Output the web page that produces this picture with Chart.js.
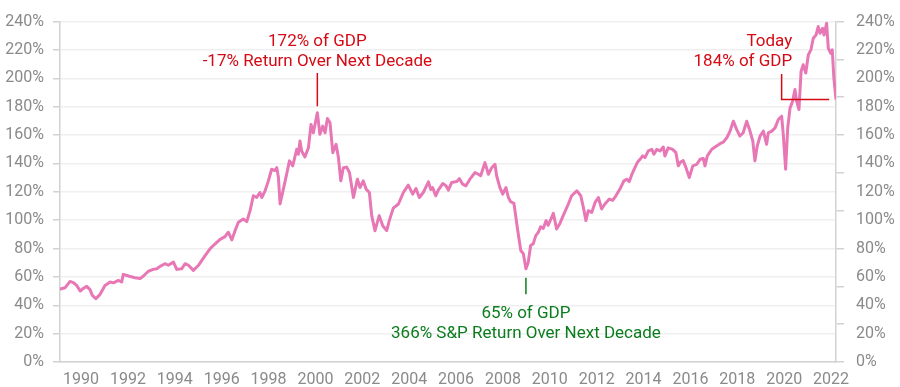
<!DOCTYPE html>
<html>
<head>
<meta charset="utf-8">
<script src="https://cdn.jsdelivr.net/npm/chart.js@4.4.1/dist/chart.umd.min.js"></script>
<style>
  html, body { margin: 0; padding: 0; background: #ffffff; }
  #wrap { width: 900px; height: 387px; position: relative; }
</style>
</head>
<body>
<div id="wrap"><canvas id="chart-gdp"></canvas></div>
<script>
'use strict';

/* ── Data ─────────────────────────────────────────────────────────────────────
   Total market cap as % of GDP (decimal years).      */
const years = [
  1989.10, 1989.15, 1989.32, 1989.53, 1989.67, 1989.81, 1989.96,
  1990.10, 1990.24, 1990.38, 1990.48, 1990.63, 1990.81,
  1991.02, 1991.24, 1991.38, 1991.59, 1991.73, 1991.80,
  1992.02, 1992.30, 1992.52, 1992.66, 1992.87,
  1993.08, 1993.23, 1993.37, 1993.58, 1993.72, 1993.94,
  1994.08, 1994.29, 1994.44, 1994.58, 1994.79,
  1995.00, 1995.29, 1995.50, 1995.64, 1995.79, 1995.93,
  1996.14, 1996.28, 1996.43, 1996.57, 1996.71, 1996.92,
  1997.07, 1997.21, 1997.35, 1997.49, 1997.63, 1997.71, 1997.85, 1997.99,
  1998.13, 1998.27, 1998.35, 1998.42, 1998.49, 1998.63, 1998.77, 1998.89,
  1999.03, 1999.20, 1999.27, 1999.34, 1999.41, 1999.55, 1999.70, 1999.81, 1999.91,
  2000.08, 2000.19, 2000.31, 2000.41, 2000.51, 2000.62, 2000.74, 2000.88, 2000.98,
  2001.08, 2001.19, 2001.33, 2001.45, 2001.62, 2001.79, 2001.90,
  2002.04, 2002.16, 2002.30, 2002.40, 2002.54, 2002.72, 2002.87,
  2003.04, 2003.15, 2003.32, 2003.54, 2003.75, 2003.96,
  2004.15, 2004.29, 2004.43, 2004.60, 2004.82, 2004.92,
  2005.00, 2005.13, 2005.24, 2005.43, 2005.57, 2005.67, 2005.81,
  2006.03, 2006.14, 2006.28, 2006.42, 2006.59, 2006.81, 2006.95,
  2007.05, 2007.23, 2007.38, 2007.52, 2007.66, 2007.73, 2007.87, 2007.99,
  2008.13, 2008.23, 2008.33, 2008.47, 2008.61, 2008.76, 2008.87, 2008.98,
  2009.08, 2009.18, 2009.29, 2009.40, 2009.51, 2009.61, 2009.72, 2009.84, 2009.93,
  2010.15, 2010.29, 2010.43, 2010.57, 2010.79, 2010.93,
  2011.15, 2011.32, 2011.43, 2011.54, 2011.64, 2011.79, 2011.93,
  2012.07, 2012.21, 2012.35, 2012.54, 2012.68, 2012.82, 2012.99,
  2013.16, 2013.28, 2013.39, 2013.49, 2013.63, 2013.73, 2013.85, 2013.96,
  2014.06, 2014.20, 2014.35, 2014.44, 2014.56, 2014.70, 2014.84, 2014.91,
  2015.05, 2015.24, 2015.38, 2015.48, 2015.58, 2015.69, 2015.81, 2015.95,
  2016.10, 2016.27, 2016.41, 2016.55, 2016.62, 2016.72, 2016.91,
  2017.05, 2017.26, 2017.40, 2017.55, 2017.69, 2017.83, 2017.97,
  2018.11, 2018.25, 2018.40, 2018.54, 2018.66, 2018.75, 2018.85, 2018.97,
  2019.11, 2019.25, 2019.32, 2019.47, 2019.61, 2019.75, 2019.89, 2019.96,
  2020.06, 2020.15, 2020.25, 2020.36, 2020.46, 2020.53, 2020.63, 2020.72, 2020.81, 2020.92,
  2021.03, 2021.14, 2021.24, 2021.36, 2021.45, 2021.53, 2021.64, 2021.70, 2021.81, 2021.88, 2021.98,
  2022.05, 2022.12, 2022.21,
];

const pctOfGdp = [
  51, 51.7, 52.4, 56.8, 56, 54, 50,
  52, 53.3, 51, 47, 44.7, 47.7,
  54, 56.4, 55.8, 57.5, 56.4, 61.8,
  60.6, 59.4, 58.8, 60.6, 64,
  65.3, 65.7, 67.4, 69.3, 68.2, 70.4,
  65.3, 65.7, 69.3, 68.2, 64.6,
  68, 75, 79.8, 82.1, 84.4, 86.5,
  88.4, 91.5, 86.1, 92.6, 98.5, 100.8,
  99, 106.7, 117.2, 116, 119.5, 116, 120.7, 127.7,
  135.9, 135, 137, 130, 111.4, 121.9, 132.4, 141.8,
  138.3, 150, 146.5, 155.8, 148.8, 144.6, 151.1, 167.5, 161.6,
  175.7, 160.5, 166.3, 161.6, 171.7, 168.7, 147.6, 153.5, 144.1,
  127.7, 137, 137.4, 133.6, 116, 128.9, 123,
  127.7, 121.9, 119.5, 103.2, 92.6, 103.2, 96.1,
  92.6, 99.7, 108.5, 111.4, 119.5, 124.7,
  118.4, 122.3, 116, 119.5, 127, 121.6,
  123, 117.2, 121.2, 125.8, 124.2, 121.2, 126.5,
  127.2, 129.3, 125.4, 124.2, 128.9, 133.6, 132.4,
  131.3, 140.6, 132.4, 137, 139.4, 131.3, 123, 118.4,
  123, 116, 113, 111.8, 95, 78.6, 76.3, 65.7,
  70.4, 82.1, 83.3, 89.1, 91.5, 95.4, 94.2, 99.7, 96.4,
  104.8, 93.8, 97.7, 103.2, 111.4, 117.2,
  120.7, 117.2, 109, 99.7, 106.7, 105.5, 112.5,
  116, 107.9, 111.4, 114.9, 114, 117.2, 121.9,
  127.7, 128.9, 127.2, 131.9, 137, 140.6, 142.9, 145.3,
  144.1, 148.8, 149.9, 146.5, 149.9, 148.8, 151.6, 145.3,
  151, 149.9, 147.6, 138.3, 141, 142, 137, 130,
  138.3, 139.4, 142.9, 143.5, 138.3, 145.3, 150,
  151.6, 153.9, 155, 158.1, 162.8, 169.8, 164,
  159.3, 161.6, 169.8, 162.8, 155.8, 141.8, 152.3, 159.3,
  162.8, 153.5, 161.6, 162.8, 165.1, 171, 173.3, 160.5,
  135.9, 165.1, 179.2, 183.9, 192.1, 183.9, 178, 204.9, 209.6, 203.7,
  216.6, 220.1, 228.3, 230.6, 236.5, 231.8, 235.3, 230.6, 238.8, 221.3, 217.8,
  220.1, 200.2, 185,
];

// Axis range and year ticks
const yearMin = 1989.1;
const yearMax = 2022.21;
const pctTicks = [0, 20, 40, 60, 80, 100, 120, 140, 160, 180, 200, 220, 240];

// Callout leader lines [year, %]
const peakLeader   = [[2000.08, 180.4], [2000.08, 203.7]];
const troughLeader = [[2008.98, 47.7], [2008.98, 59.4]];
const todayLeader  = [[2019.89, 203], [2019.89, 185.1], [2021.92, 185.1]];

/* ── Colours ─────────────────────────────────────────────────────────────── */
const PINK  = '#e877b5';
const RED   = '#d60a14';
const GREEN = '#0b7d1e';
const AXIS  = '#d2d2d2';
const GRID  = '#efefef';
const LABEL = '#8a8a8a';

/* ── Callout texts, anchored in data space ───────────────────────────────── */
const notes = [
  { text: '172% of GDP',                      x: 2000.08, y: 222.8, color: RED,   align: 'center' },
  { text: '-17% Return Over Next Decade',     x: 2000.08, y: 208.4, color: RED,   align: 'center' },
  { text: '65% of GDP',                       x: 2008.98, y: 30.9,  color: GREEN, align: 'center' },
  { text: '366% S&P Return Over Next Decade', x: 2008.98, y: 16.8,  color: GREEN, align: 'center' },
  { text: 'Today',                            x: 2020.34, y: 222.8, color: RED,   align: 'right' },
  { text: '184% of GDP',                      x: 2020.34, y: 208.9, color: RED,   align: 'right' },
];

const notesPlugin = {
  id: 'notes',
  afterDatasetsDraw(chart) {
    const { ctx, scales: { x, y } } = chart;
    ctx.save();
    ctx.font = '17px Roboto';
    ctx.textBaseline = 'alphabetic';
    for (const n of notes) {
      ctx.fillStyle = n.color;
      ctx.textAlign = n.align;
      ctx.fillText(n.text, x.getPixelForValue(n.x), y.getPixelForValue(n.y));
    }
    ctx.restore();
  },
};

const toPts = arr => arr.map(([x, y]) => ({ x, y }));
const leader = (pts, color) => ({
  data: toPts(pts),
  borderColor: color,
  borderWidth: 1.5,
  pointRadius: 0,
  tension: 0,
  order: 0,
});

Chart.defaults.font.family = 'Roboto';
Chart.defaults.font.size   = 16;
Chart.defaults.color       = LABEL;

new Chart(document.getElementById('chart-gdp').getContext('2d'), {
  type: 'line',
  data: {
    datasets: [
      {
        label: 'Market Cap / GDP',
        data: years.map((x, i) => ({ x, y: pctOfGdp[i] })),
        borderColor: PINK,
        borderWidth: 3,
        borderJoinStyle: 'round',
        pointRadius: 0,
        tension: 0,
        order: 1,
      },
      leader(peakLeader, RED),
      leader(troughLeader, GREEN),
      leader(todayLeader, RED),
    ],
  },
  options: {
    responsive: true,
    maintainAspectRatio: false,
    animation: false,
    layout: { padding: { top: 20, left: 0, right: 0, bottom: 0 } },
    plugins: { legend: { display: false }, tooltip: { enabled: false } },
    scales: {
      x: {
        type: 'linear',
        min: yearMin,
        max: yearMax,
        grid: { display: false, drawTicks: false },
        border: { display: true, color: AXIS, width: 1.5 },
        ticks: {
          stepSize: 2,
          includeBounds: false,
          autoSkip: false,
          maxRotation: 0,
          padding: 8,
          color: LABEL,
          callback: v => String(v),
        },
        afterFit: s => { s.height = 25; },
      },
      y: {
        position: 'left',
        min: 0,
        max: 240,
        afterBuildTicks: s => { s.ticks = pctTicks.map(value => ({ value })); },
        grid: { color: GRID, lineWidth: 1.5, tickLength: 7, tickColor: AXIS },
        border: { display: true, color: AXIS, width: 1.5 },
        ticks: { padding: 9, color: LABEL, callback: v => v + '%' },
        afterFit: s => { s.width = 60; },
      },
      yMarks: {
        position: 'right',
        weight: 0,
        min: 0,
        max: 9,
        grid: { drawOnChartArea: false, tickLength: 8, color: AXIS, lineWidth: 1.5 },
        border: { display: true, color: AXIS, width: 1.5 },
        ticks: { display: false, stepSize: 1 },
        afterFit: s => { s.width = 8; },
      },
      y1: {
        position: 'right',
        weight: 1,
        min: 0,
        max: 240,
        afterBuildTicks: s => { s.ticks = pctTicks.map(value => ({ value })); },
        grid: { display: false, drawTicks: false },
        border: { display: false },
        ticks: { padding: 12, color: LABEL, callback: v => v + '%' },
        afterFit: s => { s.width = 56; },
      },
    },
  },
  plugins: [notesPlugin],
});
</script>
</body>
</html>
